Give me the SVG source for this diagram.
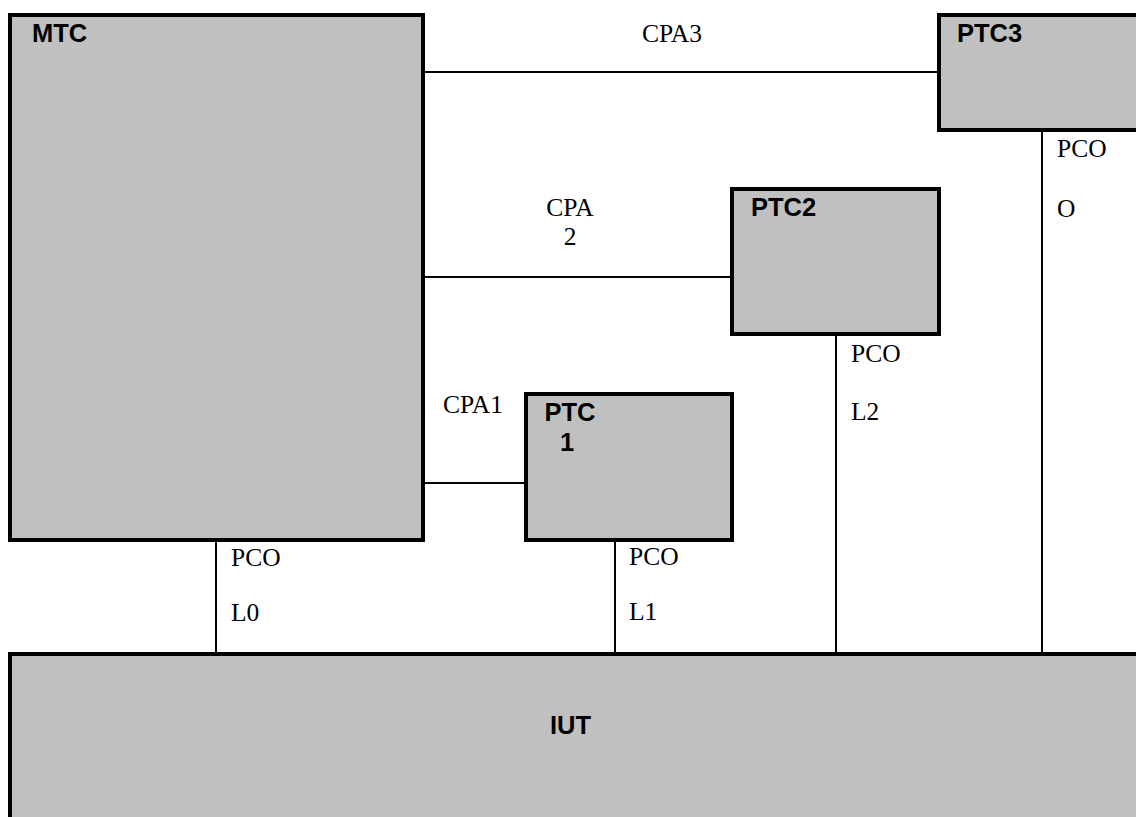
<svg xmlns="http://www.w3.org/2000/svg" width="1136" height="817" viewBox="0 0 1136 817">
<style>
.box{fill:#c0c0c0;stroke:#000;stroke-width:4}
.lbl{font-family:"Liberation Sans",Arial,sans-serif;font-weight:bold;font-size:25.5px;fill:#000}
.t{font-family:"Liberation Serif","Times New Roman",serif;font-size:25.5px;fill:#000}
.c{stroke:#000;stroke-width:2;fill:none}
</style>
<rect width="1136" height="817" fill="#fff"/>
<g id="connectors">
<line class="c" x1="425" y1="72" x2="937" y2="72"/>
<line class="c" x1="425" y1="277" x2="730" y2="277"/>
<line class="c" x1="425" y1="483" x2="524" y2="483"/>
<line class="c" x1="216" y1="542" x2="216" y2="652"/>
<line class="c" x1="615" y1="542" x2="615" y2="652"/>
<line class="c" x1="836" y1="336" x2="836" y2="652"/>
<line class="c" x1="1042" y1="132" x2="1042" y2="652"/>
<text class="t" x="642" y="42">CPA3</text>
<text class="t" x="570" y="216" text-anchor="middle">CPA</text>
<text class="t" x="570" y="245" text-anchor="middle">2</text>
<text class="t" x="443" y="413">CPA1</text>
<text class="t" x="231" y="566">PCO</text>
<text class="t" x="231" y="621">L0</text>
<text class="t" x="629" y="565">PCO</text>
<text class="t" x="629" y="620">L1</text>
<text class="t" x="851" y="362">PCO</text>
<text class="t" x="851" y="420">L2</text>
<text class="t" x="1057" y="157">PCO</text>
<text class="t" x="1057" y="217">O</text>
</g>
<g id="MTC">
<rect class="box" x="10" y="15" width="413" height="525"/>
<text class="lbl" x="32" y="42">MTC</text>
</g>
<g id="PTC3">
<rect class="box" x="939" y="15" width="250" height="115"/>
<text class="lbl" x="957" y="42">PTC3</text>
</g>
<g id="PTC2">
<rect class="box" x="732" y="189" width="207" height="145"/>
<text class="lbl" x="751" y="216">PTC2</text>
</g>
<g id="PTC1">
<rect class="box" x="526" y="394" width="206" height="146"/>
<text class="lbl" x="570" y="421" text-anchor="middle">PTC</text>
<text class="lbl" x="567" y="451" text-anchor="middle">1</text>
</g>
<g id="IUT">
<rect class="box" x="10" y="654" width="1200" height="300"/>
<text class="lbl" x="550" y="734">IUT</text>
</g>
</svg>
